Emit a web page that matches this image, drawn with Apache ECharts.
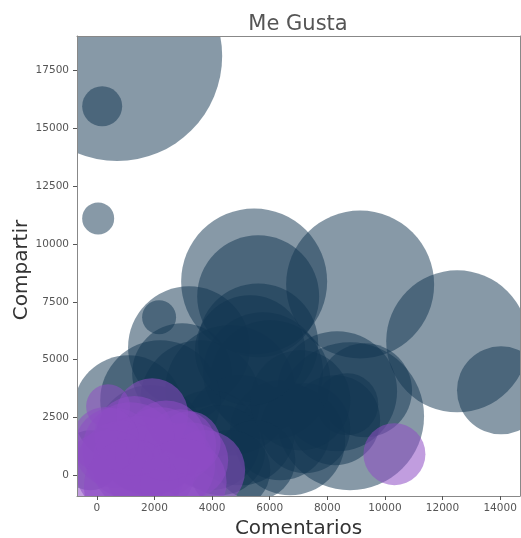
<!DOCTYPE html>
<html>
<head>
<meta charset="utf-8">
<script src="https://cdn.jsdelivr.net/npm/echarts@6/dist/echarts.min.js"></script>
<style>html,body{margin:0;padding:0;background:#fff;}#c{width:521px;height:538px;}</style>
</head>
<body>
<div id="c"></div>
<script>
// [comentarios, compartir, me gusta]
const postsNavy = [
  [705, 18130, 176400], [184, 15960, 6400], [45, 11110, 4096],
  [5460, 8380, 85264], [5600, 7740, 59536], [9140, 8250, 87616],
  [12510, 5790, 80656], [14030, 3670, 30976], [2160, 6830, 4624],
  [3200, 5530, 59536], [5600, 5700, 57600], [2960, 4410, 40000],
  [1090, 2810, 48400], [5770, 4450, 57600], [9310, 3670, 35344],
  [8340, 3630, 57600], [8790, 2550, 87616], [8270, 2380, 32400],
  [8690, 3070, 15376], [7230, 2030, 32400], [6710, 1510, 48400],
  [3590, 3240, 57600], [4630, 3670, 67600], [6020, 4110, 57600],
  [4970, 1940, 48400], [3930, 1510, 40000], [6360, 1940, 40000],
  [2200, 3240, 57600], [7060, 3240, 40000], [5320, 5400, 48400],
  [4280, 1080, 32400], [1850, 1510, 48400], [-230, 650, 14400],
  [5500, 650, 25600], [4630, 220, 25600]
];
const postsPurple = [
  [390, 2980, 7744], [1920, 2640, 20736], [1160, 1080, 36864],
  [2200, 990, 32400], [2890, 1300, 20736], [3240, 650, 23104],
  [3760, 220, 25600], [460, -220, 40000], [1850, 220, 32400],
  [600, 1200, 25600], [1500, 500, 36864], [2600, 400, 30000],
  [900, 300, 36000], [2400, 1500, 25600], [3200, 1400, 16000],
  [1300, 1700, 25600], [300, 1500, 18000], [3000, -300, 30000],
  [1200, -500, 36000],
  [10330, 910, 15376]
];
const xTicks = [0, 2000, 4000, 6000, 8000, 10000, 12000, 14000];
const yTicks = [0, 2500, 5000, 7500, 10000, 12500, 15000, 17500];

const chart = echarts.init(document.getElementById('c'), null, {renderer: 'canvas'});
const fontFam = 'DejaVu Sans';
function bubbles(color) {
  return function (params, api) {
    const p = api.coord([api.value(0), api.value(1)]);
    const r = Math.sqrt(api.value(2)) / 4;
    return {type: 'circle', shape: {cx: p[0], cy: p[1], r: r}, style: {fill: color}};
  };
}
chart.setOption({
  animation: false,
  backgroundColor: '#fff',
  title: {
    text: 'Me Gusta', left: 293, top: 9, textAlign: 'center',
    textStyle: {fontFamily: fontFam, fontWeight: 'normal', fontSize: 21, color: '#555'}
  },
  graphic: [{
    type: 'text', x: 22, y: 270, rotation: Math.PI / 2,
    style: {text: 'Compartir', fontFamily: fontFam, fontSize: 20, fill: '#333',
            textAlign: 'center', textVerticalAlign: 'middle'}
  }],
  grid: {left: 77, right: 1, top: 36, bottom: 42, containLabel: false, outerBoundsMode: 'none'},
  xAxis: [{
    type: 'value', min: -690, max: 14690, z: 10,
    splitLine: {show: false},
    axisLine: {show: true, onZero: false, lineStyle: {color: '#888', width: 1}},
    axisTick: {show: true, length: 4, customValues: xTicks, lineStyle: {color: '#555'}},
    axisLabel: {customValues: xTicks, formatter: v => String(v), fontFamily: fontFam, fontSize: 10.5, color: '#555', margin: 7},
    name: 'Comentarios', nameLocation: 'middle', nameGap: 14,
    nameTextStyle: {fontFamily: fontFam, fontSize: 20, color: '#333', verticalAlign: 'top'}
  }, {
    type: 'value', position: 'top', min: 0, max: 1, z: 10,
    splitLine: {show: false}, axisTick: {show: false}, axisLabel: {show: false},
    axisLine: {show: true, onZero: false, lineStyle: {color: '#888', width: 1}}
  }],
  yAxis: [{
    type: 'value', min: -900, max: 19000, z: 10,
    splitLine: {show: false},
    axisLine: {show: true, onZero: false, lineStyle: {color: '#888', width: 1}},
    axisTick: {show: true, length: 4, customValues: yTicks, lineStyle: {color: '#555'}},
    axisLabel: {customValues: yTicks, formatter: v => String(v), fontFamily: fontFam, fontSize: 10.5, color: '#555', margin: 8}
  }, {
    type: 'value', position: 'right', min: 0, max: 1, z: 10,
    splitLine: {show: false}, axisTick: {show: false}, axisLabel: {show: false},
    axisLine: {show: true, onZero: false, lineStyle: {color: '#888', width: 1}}
  }],
  series: [{
    type: 'custom', xAxisIndex: 0, yAxisIndex: 0, clip: true,
    encode: {x: 0, y: 1},
    data: postsNavy, renderItem: bubbles('rgba(16,52,80,0.5)')
  }, {
    type: 'custom', xAxisIndex: 0, yAxisIndex: 0, clip: true,
    encode: {x: 0, y: 1},
    data: postsPurple, renderItem: bubbles('rgba(142,76,196,0.55)')
  }]
});
</script>
</body>
</html>
